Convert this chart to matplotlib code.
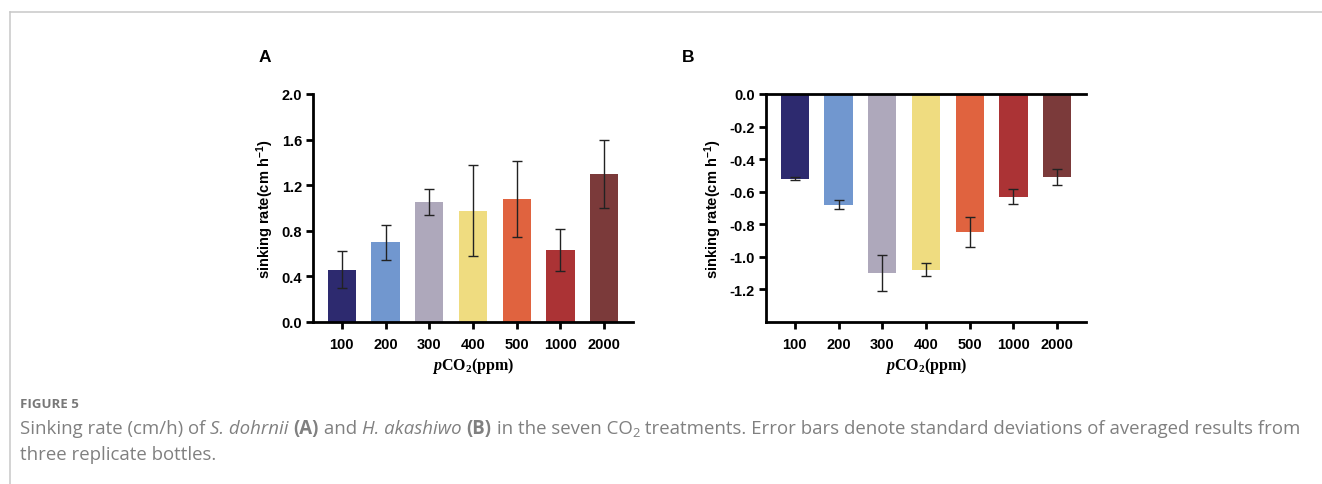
# Figure 5: sinking rate of S. dohrnii (A) and H. akashiwo (B)

import matplotlib
matplotlib.use("Agg")
import matplotlib.pyplot as plt
from matplotlib.lines import Line2D
from matplotlib.ticker import FormatStrFormatter

# 데이터
treatments = ["100", "200", "300", "400", "500", "1000", "2000"]
rate_a = [0.46, 0.70, 1.05, 0.975, 1.08, 0.63, 1.30]
err_a = [0.16, 0.155, 0.115, 0.40, 0.33, 0.187, 0.297]
rate_b = [-0.519, -0.679, -1.097, -1.079, -0.847, -0.630, -0.509]
err_b = [0.012, 0.03, 0.11, 0.04, 0.09, 0.048, 0.05]
bar_colors = ["#2d2a6f", "#7197cf", "#aea8bb", "#efdc80", "#e0633f", "#ab3335", "#7b3a3a"]

plt.rcParams["axes.unicode_minus"] = False
plt.rcParams["mathtext.fontset"] = "custom"
plt.rcParams["mathtext.rm"] = "Liberation Serif:bold"
plt.rcParams["mathtext.it"] = "Liberation Serif:italic:bold"
plt.rcParams["mathtext.default"] = "regular"

W, H = 1322, 485
fig = plt.figure(figsize=(W / 100, H / 100), dpi=100)

# 바깥 테두리 선
fig.add_artist(Line2D([9.5 / W, 1], [1 - 12.5 / H, 1 - 12.5 / H], color="#c8c8c8", lw=1.1))
fig.add_artist(Line2D([9.5 / W, 9.5 / W], [0, 1 - 12.5 / H], color="#c8c8c8", lw=1.1))

tick_font = {"family": "Liberation Sans", "weight": "bold", "size": 10.5}


def draw_panel(ax, values, errors, ylim, yticks):
    x = list(range(len(treatments)))
    ax.bar(x, values, width=0.65, color=bar_colors, zorder=2)
    ax.errorbar(x, values, yerr=errors, fmt="none", ecolor="#222222",
                elinewidth=1.0, capsize=3.5, capthick=1.0, zorder=3)
    ax.set_xlim(-0.66, len(treatments) - 0.34)
    ax.set_ylim(*ylim)
    ax.set_yticks(yticks)
    ax.yaxis.set_major_formatter(FormatStrFormatter("%.1f"))
    ax.set_xticks(x)
    ax.set_xticklabels(treatments)
    for lab in ax.get_xticklabels() + ax.get_yticklabels():
        lab.set_fontfamily(tick_font["family"])
        lab.set_fontweight(tick_font["weight"])
        lab.set_fontsize(tick_font["size"])
    ax.tick_params(width=2, length=5, color="black", pad=3)
    ax.tick_params(axis="x", pad=6)
    for side in ["left", "bottom"]:
        ax.spines[side].set_linewidth(2)
    ax.spines["right"].set_visible(False)
    ax.set_ylabel("sinking rate(cm h$^{-1}$)", fontfamily="Liberation Sans",
                  fontweight="bold", fontsize=10.5, labelpad=4)
    ax.set_xlabel(r"$\mathit{p}$CO$_2$(ppm)", fontfamily="Liberation Serif",
                  fontweight="bold", fontsize=11.5, labelpad=3)


ax_a = fig.add_axes([313 / W, 1 - 323 / H, 320 / W, 228 / H])
draw_panel(ax_a, rate_a, err_a, (0, 2.0), [0.0, 0.4, 0.8, 1.2, 1.6, 2.0])
ax_a.spines["top"].set_visible(False)

ax_b = fig.add_axes([766 / W, 1 - 323 / H, 320 / W, 228 / H])
draw_panel(ax_b, rate_b, err_b, (-1.4, 0), [0.0, -0.2, -0.4, -0.6, -0.8, -1.0, -1.2])
ax_b.spines["top"].set_linewidth(2)

fig.text(265 / W, 1 - 57 / H, "A", fontfamily="Liberation Sans", fontweight="bold",
         fontsize=12.5, ha="center", va="center")
fig.text(688 / W, 1 - 57 / H, "B", fontfamily="Liberation Sans", fontweight="bold",
         fontsize=12.5, ha="center", va="center")

# 캡션
cap_font = "Open Sans"
cap_color = "#808080"
fig.text(20 / W, 1 - 404 / H, "FIGURE 5", fontfamily=cap_font, fontweight="bold",
         fontsize=9.5, color="#787878", va="center")

renderer = fig.canvas.get_renderer()


def piece_width(s, **kw):
    t1 = fig.text(0, 0, "|" + s + "|", **kw)
    t2 = fig.text(0, 0, "||", **kw)
    w = t1.get_window_extent(renderer).width - t2.get_window_extent(renderer).width
    t1.remove()
    t2.remove()
    return w


def piece_kw(style, size):
    kw = dict(fontfamily=cap_font, fontsize=size, color=cap_color, va="baseline")
    if style == "i":
        kw["fontstyle"] = "italic"
    elif style == "b":
        kw["fontweight"] = "bold"
    elif style == "sub":
        kw["fontsize"] = size * 0.7
    return kw


def line_width(pieces, size):
    return sum(piece_width(s, **piece_kw(st, size)) for s, st in pieces)


def draw_line(pieces, x0, y, size):
    x = x0
    for s, style in pieces:
        kw = piece_kw(style, size)
        dy = -3.5 if style == "sub" else 0
        fig.text(x / W, 1 - (y - dy) / H, s, **kw)
        x += piece_width(s, **kw)


line1 = [
    ("Sinking rate (cm/h) of ", "n"), ("S. dohrnii", "i"), (" ", "n"), ("(A)", "b"),
    (" and ", "n"), ("H. akashiwo", "i"), (" ", "n"), ("(B)", "b"),
    (" in the seven CO", "n"), ("2", "sub"),
    (" treatments. Error bars denote standard deviations of averaged results from", "n"),
]
line2 = [("three replicate bottles.", "n")]

# 첫 줄이 참고 그림 폭(약 1275px)에 맞도록 글자 크기 조정
cap_size = 12 * 1275 / line_width(line1, 12)
draw_line(line1, 20, 434, cap_size)
draw_line(line2, 20, 460, cap_size)

fig.savefig("out.png", dpi=100)
